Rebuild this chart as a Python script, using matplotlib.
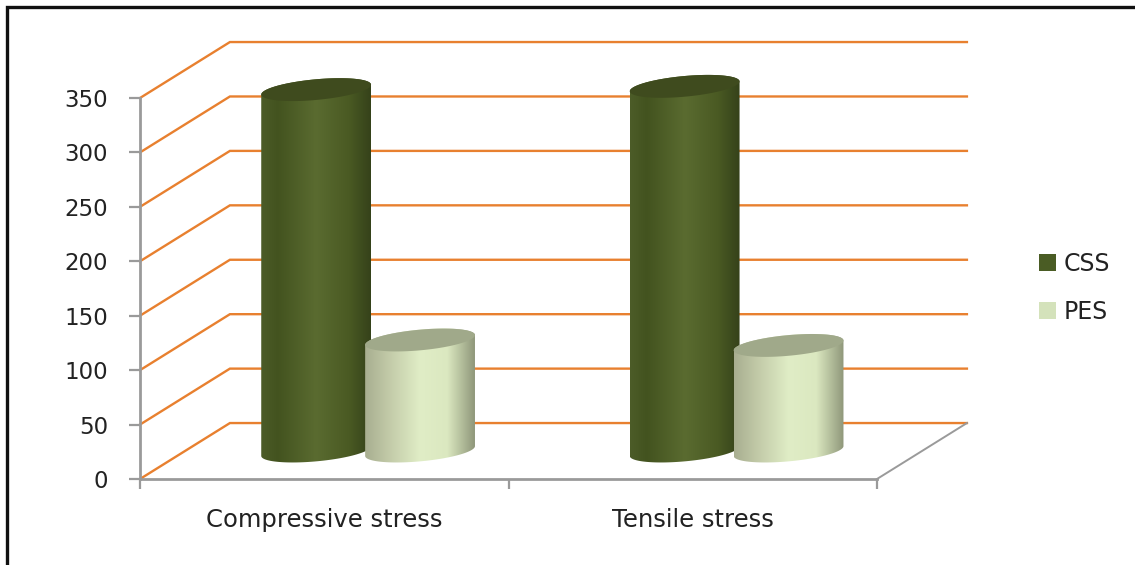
import matplotlib as mpl
mpl.use('Agg')

import matplotlib.pyplot as plt
import numpy as np
from matplotlib.colors import LinearSegmentedColormap
from matplotlib.patches import Patch, Polygon

categories = ["Compressive stress", "Tensile stress"]
css_values = [332, 335]
pes_values = [102, 97]
y_ticks = [0, 50, 100, 150, 200, 250, 300, 350]
series_names = ["CSS", "PES"]

W, H = 1135, 565
# 3d look, all in data units
depth_x = 0.244
depth_y = 51.4
radius = 0.149
tilt = 4.5
ry = 9.5
bar_off = 0.141

plt.rcParams['font.family'] = ['DejaVu Sans']

fig = plt.figure(figsize=(W / 100, H / 100), dpi=100, facecolor='white')
ax = fig.add_axes([140 / W, 1 - 479 / H, 737 / W, 381 / H])
ax.patch.set_alpha(0)

css_cmap = LinearSegmentedColormap.from_list('css', [(0, '#4c5c28'), (0.15, '#43531f'), (0.5, '#5a6b30'),
                                                     (0.8, '#4a5a23'), (1, '#35421a')])
pes_cmap = LinearSegmentedColormap.from_list('pes', [(0, '#a8ae90'), (0.2, '#c0c8a6'), (0.5, '#e0edc6'),
                                                     (0.75, '#dbe8c0'), (1, '#8f977a')])
gradient = np.linspace(0, 1, 256).reshape(1, -1)


def ellipse(cx, cy, t):
    return np.column_stack([cx + radius * np.cos(t), cy + tilt * np.cos(t) + ry * np.sin(t)])


def cylinder(cat, side, value, cmap, top_color):
    cx = cat + 0.5 + side * bar_off + depth_x / 2 - 0.003
    base = depth_y / 2
    top = base + value
    outline = np.vstack([ellipse(cx, base, np.linspace(np.pi, 2 * np.pi, 60)),
                         ellipse(cx, top, np.linspace(0, np.pi, 60))])
    body = Polygon(outline, closed=True, fc='none', ec='none', zorder=3 + cat + side)
    ax.add_patch(body)
    im = ax.imshow(gradient, cmap=cmap, aspect='auto', zorder=3 + cat + side,
                   extent=[cx - radius, cx + radius, 0, top + tilt + ry])
    im.set_clip_box(fig.bbox)
    im.set_clip_path(body)
    cap = Polygon(ellipse(cx, top, np.linspace(0, 2 * np.pi, 120)), closed=True, fc=top_color,
                  ec='none', zorder=3.1 + cat + side, clip_on=False)
    ax.add_patch(cap)


# orange grid lines on side wall and back wall
for v in y_ticks:
    ax.plot([0, depth_x, 2 + depth_x], [v, v + depth_y, v + depth_y], color='#e8802f', lw=1.7,
            solid_joinstyle='miter', clip_on=False, zorder=1)
# floor edge
ax.plot([2, 2 + depth_x], [0, depth_y], color='#9a9a9a', lw=1.4, clip_on=False, zorder=1)

for i in range(len(categories)):
    cylinder(i, -1, css_values[i], css_cmap, '#3f4b1e')
    cylinder(i, 1, pes_values[i], pes_cmap, '#a0a98a')

ax.set_xlim(0, 2)
ax.set_ylim(0, 350)
ax.set_yticks(y_ticks)
ax.set_xticks([0, 1, 2])
ax.set_xticklabels([])
ax.set_xticks([0.5, 1.5], labels=categories, minor=True)
ax.tick_params(axis='x', which='minor', length=0, pad=21, labelsize=17.5, labelcolor='#222222')
ax.tick_params(axis='x', which='major', length=7, width=1.6, color='#9a9a9a')
ax.tick_params(axis='y', length=8, width=1.6, color='#9a9a9a', labelsize=16.5, labelcolor='#222222', pad=15)
for s in ['top', 'right']:
    ax.spines[s].set_visible(False)
for s in ['left', 'bottom']:
    ax.spines[s].set_color('#9a9a9a')
    ax.spines[s].set_linewidth(2)

handles = [Patch(fc='#4a5c24', ec='none'), Patch(fc='#d4e2bb', ec='none')]
fig.legend(handles, series_names, loc='center left', bbox_to_anchor=(1039 / W, 1 - 288 / H), frameon=False,
           fontsize=17, labelcolor='#222222', handlelength=0.73, handleheight=0.73, handletextpad=0.33,
           labelspacing=1.02, borderpad=0, borderaxespad=0)

# picture border, only top and left show
fig.add_artist(plt.Line2D([7 / W, 7 / W, 1], [0, 1 - 7 / H, 1 - 7 / H], transform=fig.transFigure,
                          color='#111111', lw=2.4, solid_joinstyle='miter'))

fig.savefig('out.png', dpi=100)
